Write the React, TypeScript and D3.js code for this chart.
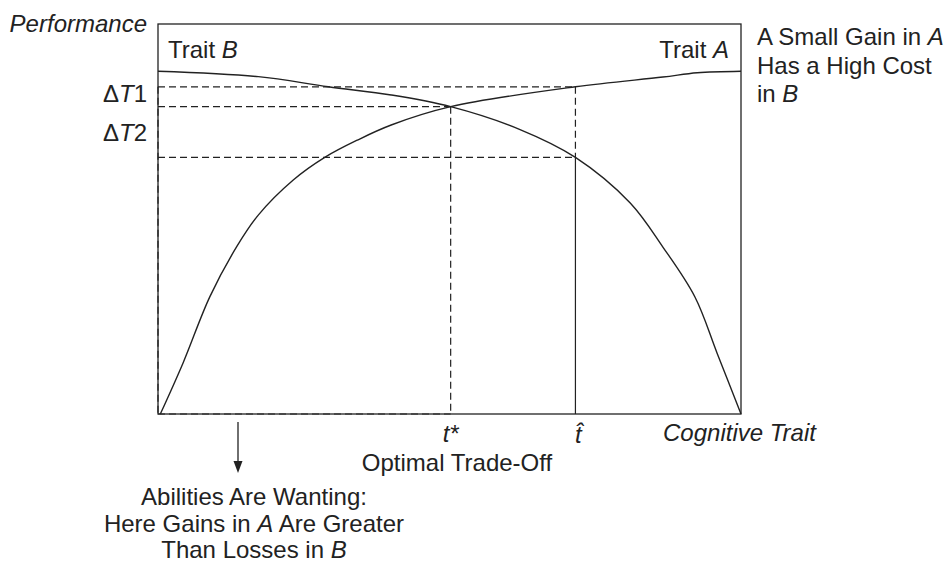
import React from 'react';
import * as d3 from 'd3';

// curve points, in percent of the frame
const traitB: [number, number][] = [
  [0, 87.9], [17.2, 86.5], [29.2, 83.9], [40.0, 81.8], [50.2, 78.8],
  [62.0, 73.0], [71.6, 65.8], [81.0, 54.1], [86.6, 42.8], [92.1, 30.0],
  [95.9, 15.6], [100, 0],
];
const traitA: [number, number][] = [
  [0.4, 0], [4.3, 13.1], [8.9, 30.1], [13.5, 42.9],
  [17.2, 51.0], [23.2, 60.0], [28.6, 65.8], [34.3, 70.3], [40.0, 74.1],
  [50.2, 78.8], [71.6, 83.9], [86.6, 86.4], [92.5, 87.5], [100, 87.9],
];

const tStar = 50.2;
const tHat = 71.6;
const dT1Top = 83.9;
const optimum = 78.8;
const dT2Bottom = 65.8;

const rightNote = ['A Small Gain in ', 'Has a High Cost', 'in '];
const bottomNote = ['Abilities Are Wanting:', 'Here Gains in ', 'Than Losses in '];

const width = 947;
const height = 563;
const ink = '#222';
const font = '"Liberation Sans", Arial, Helvetica, sans-serif';
const fs = 24;

export default function App() {
  const x = d3.scaleLinear().domain([0, 100]).range([158, 741]);
  const y = d3.scaleLinear().domain([0, 100]).range([414, 24]);

  const line = d3
    .line<[number, number]>()
    .x((d) => x(d[0]))
    .y((d) => y(d[1]))
    .curve(d3.curveCatmullRom.alpha(0.5));

  const dash = '7,4';

  return (
    <svg
      width={width}
      height={height}
      style={{ position: 'absolute', left: 0, top: 0, background: '#fff' }}
      fontFamily={font}
      fontSize={fs}
      fill={ink}
    >
      <rect x={x(0)} y={y(100)} width={x(100) - x(0)} height={y(0) - y(100)} fill="none" stroke={ink} strokeWidth={1.3} />

      {/* reference lines */}
      <g stroke={ink} strokeWidth={1.2} strokeDasharray={dash} fill="none">
        <line x1={x(0)} x2={x(tHat)} y1={y(dT1Top)} y2={y(dT1Top)} />
        <line x1={x(0)} x2={x(tStar)} y1={y(optimum)} y2={y(optimum)} />
        <line x1={x(0)} x2={x(tHat)} y1={y(dT2Bottom)} y2={y(dT2Bottom)} />
        <line x1={x(tStar)} x2={x(tStar)} y1={y(optimum)} y2={y(0)} />
        <line x1={x(tHat)} x2={x(tHat)} y1={y(dT1Top)} y2={y(dT2Bottom)} />
        <line x1={x(0)} x2={x(tStar)} y1={y(0)} y2={y(0)} />
        <line x1={x(0)} x2={x(0)} y1={y(dT1Top)} y2={y(0)} />
      </g>
      <line x1={x(tHat)} x2={x(tHat)} y1={y(dT2Bottom)} y2={y(0)} stroke={ink} strokeWidth={1.2} />

      <path d={line(traitB) ?? ''} fill="none" stroke={ink} strokeWidth={1.4} />
      <path d={line(traitA) ?? ''} fill="none" stroke={ink} strokeWidth={1.4} />

      {/* labels */}
      <text x={147} y={32} textAnchor="end" fontStyle="italic">Performance</text>
      <text x={168} y={58}>Trait <tspan fontStyle="italic">B</tspan></text>
      <text x={729} y={58} textAnchor="end">Trait <tspan fontStyle="italic">A</tspan></text>
      <text x={147} y={102} textAnchor="end">Δ<tspan fontStyle="italic">T</tspan>1</text>
      <text x={147} y={141} textAnchor="end">Δ<tspan fontStyle="italic">T</tspan>2</text>

      <text x={757} y={45}>{rightNote[0]}<tspan fontStyle="italic">A</tspan></text>
      <text x={757} y={74}>{rightNote[1]}</text>
      <text x={757} y={102}>{rightNote[2]}<tspan fontStyle="italic">B</tspan></text>

      <text x={x(tStar)} y={442} textAnchor="middle" fontStyle="italic">t*</text>
      <text x={x(tHat) + 3} y={443} textAnchor="middle" fontStyle="italic">{'t\u0302'}</text>
      <text x={457} y={471} textAnchor="middle">Optimal Trade-Off</text>
      <text x={663} y={441} fontStyle="italic">Cognitive Trait</text>

      <line x1={238} x2={238} y1={422} y2={464} stroke={ink} strokeWidth={1.3} />
      <path d="M233.5,461 L242.5,461 L238,473 Z" fill={ink} />

      <text x={254} y={505} textAnchor="middle">{bottomNote[0]}</text>
      <text x={254} y={532} textAnchor="middle">{bottomNote[1]}<tspan fontStyle="italic">A</tspan> Are Greater</text>
      <text x={254} y={558} textAnchor="middle">{bottomNote[2]}<tspan fontStyle="italic">B</tspan></text>
    </svg>
  );
}
